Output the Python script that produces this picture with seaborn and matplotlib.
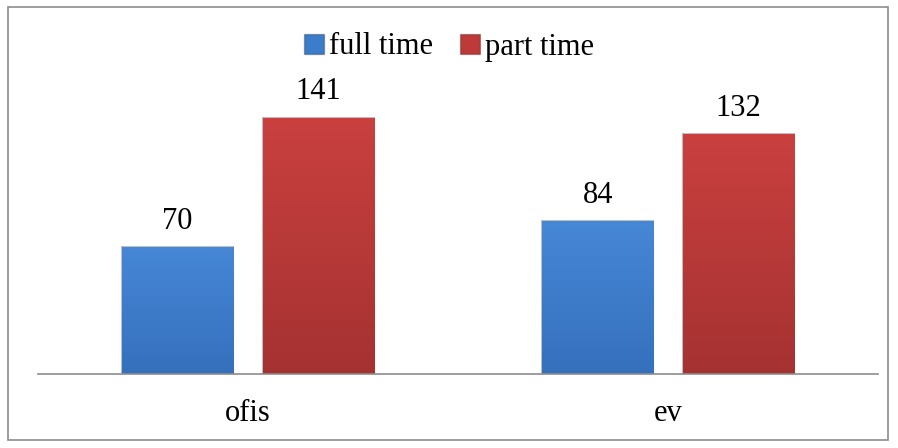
import matplotlib
matplotlib.use('Agg')
import matplotlib.pyplot as plt
import seaborn as sns
import pandas as pd
import numpy as np
from matplotlib.patches import Rectangle, Patch
from matplotlib.colors import to_rgb

# Dados
categorias = ['ofis', 'ev']
full_time = [70, 84]
part_time = [141, 132]
series = ['full time', 'part time']
cores = ['#3C7DCB', '#BE3A39']
cores_topo = ['#4687D6', '#C9403F']
cores_base = ['#3570BD', '#A53231']

df = pd.DataFrame({
    'Local': categorias * 2,
    'Tipo': [series[0]] * 2 + [series[1]] * 2,
    'Valor': full_time + part_time,
})

sns.set_style('white')
plt.rcParams['font.family'] = ['Liberation Serif', 'DejaVu Serif']
plt.rcParams['text.color'] = 'black'
plt.rcParams['xtick.color'] = 'black'

fig = plt.figure(figsize=(8.98, 4.48), dpi=100)
ax = fig.add_axes([38 / 898, 1 - 374 / 448, 840 / 898, (374 - 83) / 448])

sns.barplot(data=df, x='Local', y='Valor', hue='Tipo', palette=cores,
            width=0.67, gap=0.21, ax=ax, legend=False, saturation=1,
            edgecolor='none')

# efeito de degradê nas barras (primeiras 2 = full time, últimas 2 = part time)
for i, bar in enumerate(ax.patches):
    k = 0 if i < 2 else 1
    x0, w, h = bar.get_x(), bar.get_width(), bar.get_height()
    c1, c2 = np.array(to_rgb(cores_base[k])), np.array(to_rgb(cores_topo[k]))
    t = np.linspace(0, 1, 64)[:, None, None]
    grad = c1 + (c2 - c1) * t
    im = ax.imshow(grad, extent=[x0, x0 + w, 0, h], origin='lower',
                   aspect='auto', zorder=bar.get_zorder() + 0.1)
    im.set_clip_path(bar)
    bar.set_edgecolor('#00000040')
    bar.set_linewidth(1.5)

# rótulos de valor
for bar in ax.patches:
    h = bar.get_height()
    ax.annotate(f'{h:.0f}', (bar.get_x() + bar.get_width() / 2, h),
                xytext=(0, 8), textcoords='offset points',
                ha='center', va='bottom', fontsize=22, color='black')

ax.set_ylim(0, 160)
ax.set_xlim(-0.5, 1.5)
ax.set_xlabel('')
ax.set_ylabel('')
ax.set_yticks([])
ax.tick_params(axis='x', length=0, labelsize=22, pad=18, labelcolor='black')
for s in ['top', 'right', 'left']:
    ax.spines[s].set_visible(False)
ax.spines['bottom'].set_color('#8C8C8C')
ax.spines['bottom'].set_linewidth(1.2)
ax.spines['bottom'].set_zorder(5)
ax.grid(False)

# legenda
handles = [Patch(facecolor=c, edgecolor='#00000044') for c in cores]
fig.legend(handles, series, loc='center', bbox_to_anchor=(0.5, 1 - 47 / 448),
           ncol=2, frameon=False, fontsize=22, handlelength=0.65,
           handleheight=0.65, handletextpad=0.15, columnspacing=0.9,
           labelcolor='black')

# moldura externa
fig.patches.append(Rectangle((8 / 898, 1 - 440 / 448), 880 / 898, 433 / 448,
                             transform=fig.transFigure, fill=False,
                             edgecolor='#8C8C8C', linewidth=1.2))

fig.savefig('out.png', dpi=100)
